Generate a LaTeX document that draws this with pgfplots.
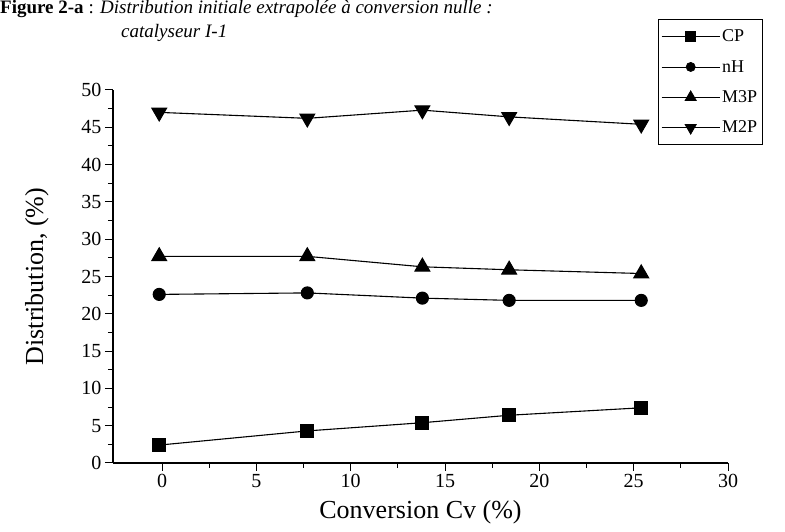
\documentclass[border=0pt]{standalone}
\usepackage{pgfplots}
\pgfplotsset{compat=1.18}
\usepackage{fontspec}
\setmainfont{Liberation Serif}
\begin{document}
\begin{tikzpicture}[x=1pt,y=1pt]
\path[use as bounding box] (0,0) rectangle (785,532);
\begin{axis}[
  at={(113pt,69pt)}, anchor=south west,
  scale only axis, width=615pt, height=373pt,
  xmin=-2.6, xmax=30, ymin=0, ymax=50,
  axis lines=left, axis line style={-, line width=1.2pt},
  xtick={0,5,...,30}, ytick={0,5,...,50},
  minor x tick num=1, minor y tick num=1,
  tick align=outside, major tick length=8pt, minor tick length=5pt,
  tick style={line width=1pt, black},
  ticklabel style={font=\fontsize{20}{22}\selectfont},
  /pgf/number format/assume math mode=true,
  xlabel={Conversion Cv (\%)}, ylabel={Distribution, (\%)},
  label style={font=\fontsize{26}{28}\selectfont},
  xlabel style={yshift=-6pt}, ylabel style={yshift=26pt},
  legend style={at={(0.886,0.853)}, anchor=south west, draw=black, line width=0.8pt,
    font=\fontsize{18}{20}\selectfont, row sep=13pt, inner xsep=3pt, inner ysep=8pt,
    cells={anchor=west}},
  legend image code/.code={\draw[mark repeat=2, mark phase=2, line width=0.8pt, #1, every mark/.append style={scale=0.75}]
    plot coordinates {(0pt,0pt) (29pt,0pt) (58pt,0pt)};},
  every axis plot/.append style={black, line width=1.1pt, mark options={solid, fill=black}},
  clip=false,
]
\addplot[mark=square*, mark size=6.5pt] coordinates {(-0.15,2.4) (7.7,4.3) (13.8,5.4) (18.4,6.4) (25.4,7.4)};
\addlegendentry{CP}
\addplot[mark=*, mark size=6pt] coordinates {(-0.15,22.6) (7.7,22.8) (13.8,22.1) (18.4,21.8) (25.4,21.8)};
\addlegendentry{nH}
\addplot[mark=triangle*, mark size=8.5pt] coordinates {(-0.15,27.7) (7.7,27.7) (13.8,26.3) (18.4,25.9) (25.4,25.4)};
\addlegendentry{M3P}
\addplot[mark=triangle*, mark size=8.5pt, mark options={rotate=180}] coordinates {(-0.15,47.0) (7.7,46.2) (13.8,47.3) (18.4,46.4) (25.4,45.4)};
\addlegendentry{M2P}
\end{axis}
\node[anchor=north west, inner sep=0pt, font=\fontsize{19}{21}\selectfont] at (0,532) {\textbf{Figure 2-a} : \textit{Distribution initiale extrapolée à conversion nulle :}};
\node[anchor=north west, inner sep=0pt, font=\fontsize{19}{21}\selectfont] at (121,508) {\textit{catalyseur I-1}};
\end{tikzpicture}
\end{document}
